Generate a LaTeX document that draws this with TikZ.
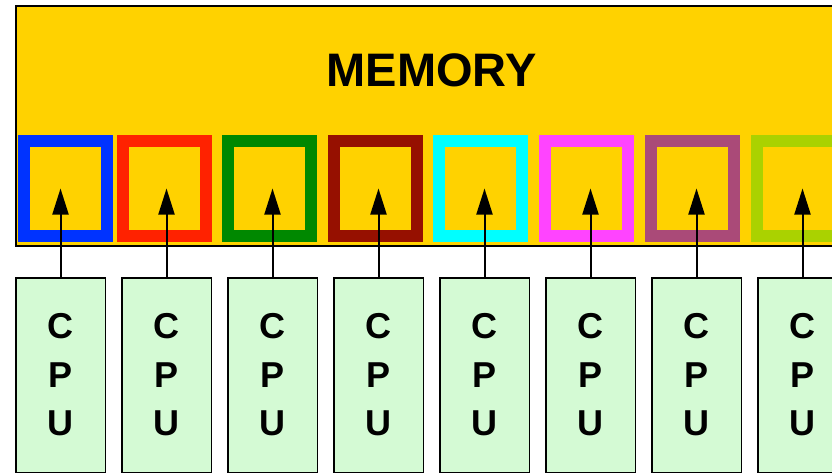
\documentclass[tikz,border=0pt]{standalone}
\usepackage{fontspec}
\setmainfont{Liberation Sans}
\usetikzlibrary{arrows.meta,positioning}
\definecolor{memgold}{RGB}{255,210,0}
\definecolor{cpugreen}{RGB}{212,250,212}
\definecolor{slotblue}{RGB}{0,51,255}
\definecolor{slotred}{RGB}{255,34,0}
\definecolor{slotgreen}{RGB}{0,136,0}
\definecolor{slotdarkred}{RGB}{150,16,0}
\definecolor{slotcyan}{RGB}{0,255,255}
\definecolor{slotmagenta}{RGB}{255,68,255}
\definecolor{slotpurple}{RGB}{170,74,120}
\definecolor{slotlime}{RGB}{170,210,0}

\begin{document}
\begin{tikzpicture}[
  x=1pt, y=-1pt,
  mem/.style={draw=black, line width=2pt, fill=memgold, inner sep=0pt,
              outer sep=0pt, anchor=north west},
  memtext/.style={font=\bfseries\fontsize{47}{56}\selectfont, inner sep=0pt},
  slot/.style={draw=#1, line width=12pt, fill=memgold, inner sep=0pt,
               outer sep=0pt, minimum width=83pt, minimum height=95pt,
               anchor=north west},
  cpu/.style={draw=black, line width=1.5pt, fill=cpugreen, inner sep=0pt,
              outer sep=0pt, minimum width=89.5pt, minimum height=194.5pt,
              align=center, font=\bfseries\fontsize{36}{48.5}\selectfont},
  arr/.style={-{Triangle[length=26pt,width=16pt]}, line width=2pt}
]
\clip (0,0) rectangle (832,474);
\node[mem, minimum width=831pt, minimum height=240pt] (mem) at (16,6) {};
\node[memtext] (memlabel) at ([yshift=-64.5pt]mem.north) {MEMORY};
% memory slots
\foreach \x/\c [count=\i] in {18/slotblue,117/slotred,222/slotgreen,
    328/slotdarkred,433/slotcyan,539/slotmagenta,645/slotpurple,751/slotlime}
  \node[slot=\c] (slot\i) at (\x+6,141) {};
% processors
\node[cpu, anchor=north west] (cpu1) at (15.75,277.75) {C\\P\\U};
\foreach \i [remember=\i as \j (initially 1)] in {2,...,8}
  \node[cpu, right=16.5pt of cpu\j] (cpu\i) {C\\P\\U};
\foreach \i in {1,...,8}
  \draw[arr] (cpu\i.north) -- (cpu\i.north |- slot\i.center);
\end{tikzpicture}
\end{document}
